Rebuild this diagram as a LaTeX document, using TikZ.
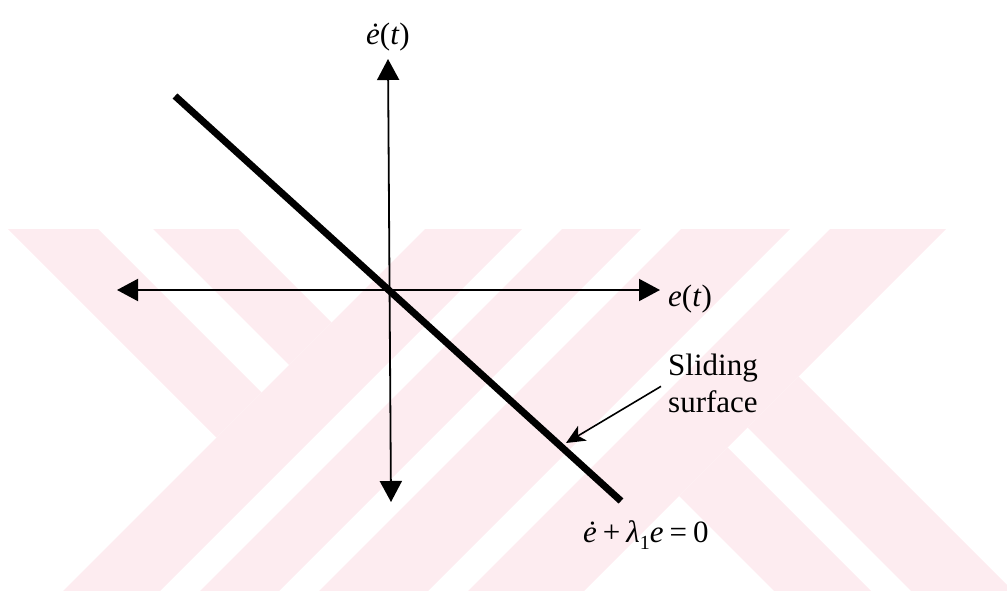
\documentclass[tikz,border=0pt]{standalone}
\usepackage{fontspec}
\setmainfont{Liberation Serif}
\usetikzlibrary{arrows.meta}
\definecolor{wm}{RGB}{253,236,240}
\tikzset{
  band/.style={fill=wm, draw=none},
  axisline/.style={line width=2pt, {Triangle[length=21pt,width=22pt]}-{Triangle[length=21pt,width=22pt]}},
  surf/.style={line width=7pt},
  pointer/.style={line width=1.6pt, -{Stealth[length=19pt,width=17pt,inset=5pt]}},
  lab/.style={inner sep=0pt, font=\fontsize{31}{36.5}\selectfont},
}
\begin{document}
\begin{tikzpicture}[x=1pt,y=-1pt]
\useasboundingbox (0,0) rectangle (1007,591);
% watermark bands
\fill[band] (8,229) -- (98,229) -- (261.5,392.5) -- (216.5,437.5) -- cycle;
\fill[band] (153,229) -- (238,229) -- (331.5,322.5) -- (289,365) -- cycle;
\fill[band] (425,229) -- (522,229) -- (160,591) -- (63,591) -- cycle;
\fill[band] (562,229) -- (641,229) -- (279,591) -- (200,591) -- cycle;
\fill[band] (681,229) -- (790,229) -- (428,591) -- (319,591) -- cycle;
\fill[band] (830,229) -- (946,229) -- (584,591) -- (468,591) -- cycle;
\fill[band] (679,496) -- (727.5,447.5) -- (871,591) -- (774,591) -- cycle;
\fill[band] (747.5,427.5) -- (798.5,376.5) -- (1007,585) -- (1007,591) -- (911,591) -- cycle;
% axes
\coordinate (L) at (117,290);
\coordinate (R) at (660,290);
\coordinate (T) at (388,59);
\coordinate (B) at (391,502);
\draw[axisline] (L) -- (R);
\draw[axisline, line width=1.8pt] (B) -- (T);
% sliding surface line
\coordinate (s1) at (175,96);
\coordinate (s2) at (621,501);
\draw[surf] (s1) -- (s2);
% labels
\node[lab, anchor=base] (edot) at (388,44.5) {\textit{ė}(\textit{t})};
\node[lab, anchor=base west] (et) at (668,306) {\textit{e}(\textit{t})};
\node[lab, anchor=north west, align=left] (slid) at (668,354) {Sliding\\surface};
\coordinate (hit) at (566,443);
\draw[pointer] ([xshift=-7pt,yshift=-3pt]slid.west) -- (hit);
\node[lab, anchor=base west] (eq) at (583,542) {\textit{ė}\hspace{6pt}+\hspace{6pt}\textit{λ}\raisebox{-7pt}{\fontsize{20}{20}\selectfont 1}\textit{e}\hspace{6pt}=\hspace{6pt}0};
\end{tikzpicture}
\end{document}
